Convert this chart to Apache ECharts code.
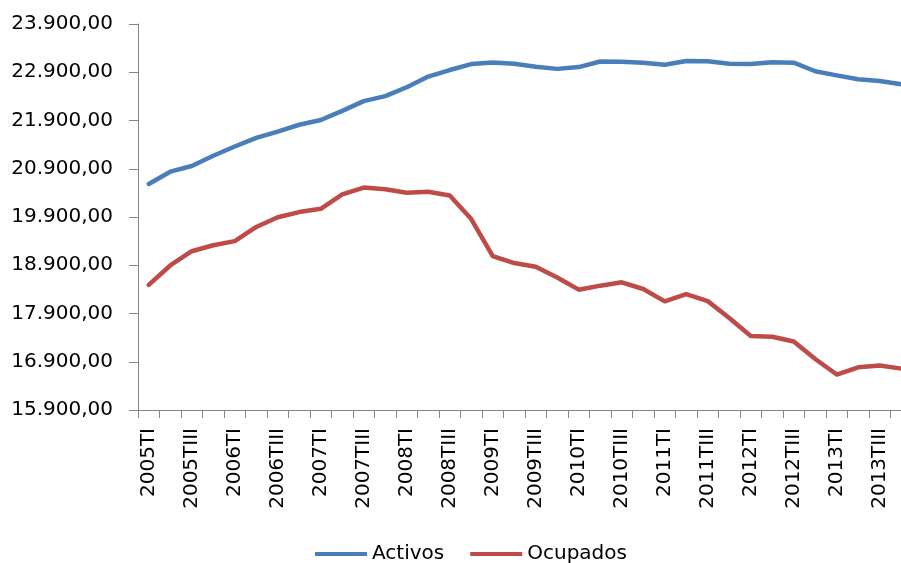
<!DOCTYPE html>
<html>
<head>
<meta charset="utf-8">
<script src="https://cdn.jsdelivr.net/npm/echarts@6/dist/echarts.min.js"></script>
<style>
  html, body { margin: 0; padding: 0; background: #fff; overflow: hidden; }
  #chart { width: 912px; height: 563px; }
</style>
</head>
<body>
<div id="chart"></div>
<script>
// trimestres EPA (miles de personas)
const trimestres = [
  '2005TI', '2005TII', '2005TIII', '2005TIV',
  '2006TI', '2006TII', '2006TIII', '2006TIV',
  '2007TI', '2007TII', '2007TIII', '2007TIV',
  '2008TI', '2008TII', '2008TIII', '2008TIV',
  '2009TI', '2009TII', '2009TIII', '2009TIV',
  '2010TI', '2010TII', '2010TIII', '2010TIV',
  '2011TI', '2011TII', '2011TIII', '2011TIV',
  '2012TI', '2012TII', '2012TIII', '2012TIV',
  '2013TI', '2013TII', '2013TIII', '2013TIV'
]
const activos = [
  20585, 20839, 20957, 21170,
  21360, 21540, 21670, 21812,
  21910, 22100, 22302, 22405,
  22590, 22810, 22946, 23070,
  23100, 23075, 23015, 22970,
  23007, 23122, 23118, 23098,
  23055, 23135, 23130, 23078,
  23072, 23105, 23098, 22920,
  22835, 22755, 22720, 22650
]
const ocupados = [
  18493, 18895, 19191, 19314,
  19400, 19693, 19896, 20002,
  20069, 20367, 20511, 20477,
  20402, 20425, 20346, 19857,
  19091, 18945, 18870, 18646,
  18394, 18477, 18547, 18408,
  18152, 18303, 18156, 17808,
  17433, 17417, 17320, 16957,
  16635, 16784, 16823, 16758
]

function formatoEs(v) {
  let s = Math.round(v).toString()
  s = s.replace(/\B(?=(\d{3})+(?!\d))/g, '.')
  return s + ',00'
}

let dom = document.getElementById('chart')
let myChart = echarts.init(dom)
const fuente = 'DejaVu Sans'
var option = {
  animation: false,
  grid: {
    left: 138,
    right: 0,
    top: 24,
    bottom: 153
  },
  legend: {
    top: 539,
    left: 310,
    icon: 'rect',
    itemWidth: 52,
    itemHeight: 4,
    itemGap: 26,
    textStyle: { fontSize: 20, color: '#000', fontFamily: fuente },
    data: ['Activos', 'Ocupados']
  },
  xAxis: {
    type: 'category',
    data: trimestres,
    boundaryGap: true,
    axisLine: { lineStyle: { color: '#868686', width: 1 } },
    axisTick: { show: true, interval: 0, length: 8, lineStyle: { color: '#868686' } },
    axisLabel: {
      interval: 1,
      rotate: 90,
      margin: 18,
      fontSize: 20,
      color: '#000',
      fontFamily: fuente
    },
    splitLine: { show: false }
  },
  yAxis: {
    type: 'value',
    min: 15900,
    max: 23900,
    interval: 1000,
    axisLine: { show: true, lineStyle: { color: '#868686', width: 1 } },
    axisTick: { show: true, length: 9, lineStyle: { color: '#868686' } },
    splitLine: { show: false },
    axisLabel: {
      margin: 25,
      fontSize: 20,
      color: '#000',
      fontFamily: fuente,
      formatter: formatoEs
    }
  },
  series: [
    {
      name: 'Activos',
      type: 'line',
      data: activos,
      symbol: 'none',
      color: '#4A7EBB',
      lineStyle: { color: '#4A7EBB', width: 4.5, cap: 'round', join: 'round' }
    },
    {
      name: 'Ocupados',
      type: 'line',
      data: ocupados,
      symbol: 'none',
      color: '#BE4B48',
      lineStyle: { color: '#BE4B48', width: 4.5, cap: 'round', join: 'round' }
    }
  ]
}
myChart.setOption(option)
</script>
</body>
</html>
